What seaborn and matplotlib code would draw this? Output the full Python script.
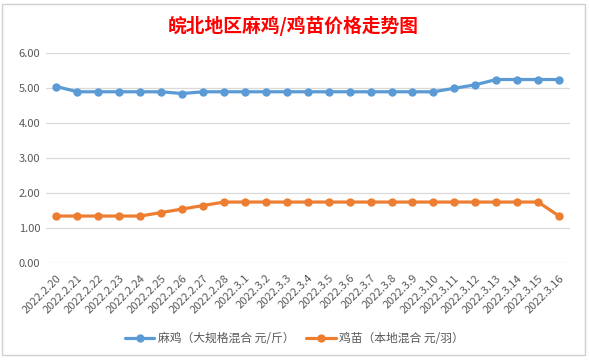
import matplotlib
matplotlib.use("Agg")
import matplotlib.pyplot as plt
import seaborn as sns
import pandas as pd
from matplotlib.patches import Rectangle

dates = ["2022.2.20", "2022.2.21", "2022.2.22", "2022.2.23", "2022.2.24", "2022.2.25",
         "2022.2.26", "2022.2.27", "2022.2.28", "2022.3.1", "2022.3.2", "2022.3.3",
         "2022.3.4", "2022.3.5", "2022.3.6", "2022.3.7", "2022.3.8", "2022.3.9",
         "2022.3.10", "2022.3.11", "2022.3.12", "2022.3.13", "2022.3.14", "2022.3.15",
         "2022.3.16"]
maji = [5.05, 4.90, 4.90, 4.90, 4.90, 4.90, 4.85, 4.90, 4.90, 4.90, 4.90, 4.90,
        4.90, 4.90, 4.90, 4.90, 4.90, 4.90, 4.90, 5.00, 5.10, 5.25, 5.25, 5.25, 5.25]
jimiao = [1.35, 1.35, 1.35, 1.35, 1.35, 1.45, 1.55, 1.65, 1.75, 1.75, 1.75, 1.75,
          1.75, 1.75, 1.75, 1.75, 1.75, 1.75, 1.75, 1.75, 1.75, 1.75, 1.75, 1.75, 1.35]
series_names = ["麻鸡（大规格混合 元/斤）", "鸡苗（本地混合 元/羽）"]
yticks = [0, 1, 2, 3, 4, 5, 6]
title = "皖北地区麻鸡/鸡苗价格走势图"

sns.set_theme(style="white")
plt.rcParams['font.family'] = ['Noto Sans CJK SC', 'DejaVu Sans']

df = pd.DataFrame({
    "idx": list(range(len(dates))) * 2,
    "value": maji + jimiao,
    "series": [series_names[0]] * len(dates) + [series_names[1]] * len(dates),
})

fig = plt.figure(figsize=(5.89, 3.6), dpi=100)
fig.patch.set_facecolor("white")
fig.patches.append(Rectangle((0.004, 0.014), 0.990, 0.976, transform=fig.transFigure,
                             fill=False, edgecolor="#D0D0D0", linewidth=1.0))
ax = fig.add_axes([0.078, 0.2686, 0.889, 0.5834])

palette = {series_names[0]: "#5B9BD5", series_names[1]: "#ED7D31"}
sns.lineplot(data=df, x="idx", y="value", hue="series", palette=palette, ax=ax,
             marker="o", markersize=6, markeredgewidth=0, linewidth=2.3, legend=True)

ax.set_xlim(-0.5, len(dates) - 0.5)
ax.set_ylim(0, 6)
ax.set_yticks(yticks)
ax.set_yticklabels([f"{v:.2f}" for v in yticks], fontsize=8, color="#595959")
ax.set_xticks(range(len(dates)))
ax.set_xticklabels(dates, rotation=45, ha="right", rotation_mode="anchor",
                   fontsize=8, color="#595959")
ax.tick_params(axis="x", length=0, pad=7)
ax.tick_params(axis="y", length=0, pad=4)
ax.set_xlabel("")
ax.set_ylabel("")
for s in ax.spines.values():
    s.set_visible(False)
ax.yaxis.grid(True, color="#D9D9D9", linewidth=0.9)
ax.set_axisbelow(True)

fig.text(0.497, 0.928, title, ha="center", va="center", fontsize=13.5,
         fontweight="bold", color="#FF0000")

handles, labels = ax.get_legend_handles_labels()
ax.legend_.remove()
fig.legend(handles, labels, loc="center", bbox_to_anchor=(0.5, 0.06), ncol=2,
           frameon=False, fontsize=8.5, labelcolor="#595959", handlelength=2.5,
           columnspacing=1.0, handletextpad=0.3)

fig.savefig("out.png", dpi=100, facecolor="white")
